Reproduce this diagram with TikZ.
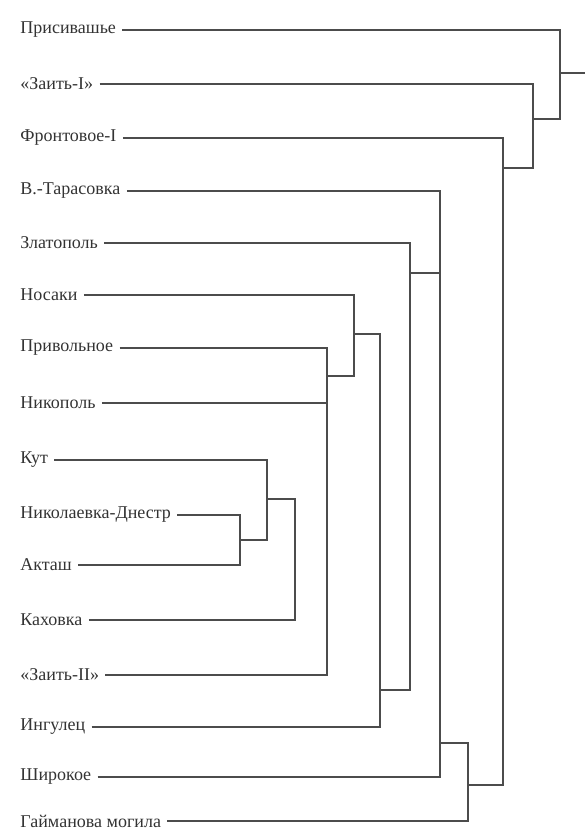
\documentclass[tikz,border=0pt]{standalone}
\usepackage{fontspec}
\setmainfont{Liberation Serif}
\usepackage{tikz}
\usepackage{xcolor}

\begin{document}
\begin{tikzpicture}[x=0.5pt,y=-0.5pt,
  leaf/.style={anchor=west,inner sep=3pt,text=black!80,font=\fontsize{9}{10}\selectfont},
  link/.style={draw=black!70,line width=0.7pt}]
  \useasboundingbox (0,0) rectangle (585,830);
  % sites
  \node[leaf] (l1) at (14,30) {Присивашье};
  \node[leaf] (l2) at (14,84) {«Заить-I»};
  \node[leaf] (l3) at (14,138) {Фронтовое-I};
  \node[leaf] (l4) at (14,191) {В.-Тарасовка};
  \node[leaf] (l5) at (14,243) {Златополь};
  \node[leaf] (l6) at (14,295) {Носаки};
  \node[leaf] (l7) at (14,348) {Привольное};
  \node[leaf] (l8) at (14,403) {Никополь};
  \node[leaf] (l9) at (14,460) {Кут};
  \node[leaf] (l10) at (14,515) {Николаевка-Днестр};
  \node[leaf] (l11) at (14,565) {Акташ};
  \node[leaf] (l12) at (14,620) {Каховка};
  \node[leaf] (l13) at (14,675) {«Заить-II»};
  \node[leaf] (l14) at (14,727) {Ингулец};
  \node[leaf] (l15) at (14,777) {Широкое};
  \node[leaf] (l16) at (14,821) {Гайманова могила};
  % joins
  \coordinate (a) at (240,540);
  \coordinate (b) at (267,499);
  \coordinate (c) at (295,560);
  \coordinate (d) at (327,376);
  \coordinate (e) at (354,334);
  \coordinate (f) at (380,690);
  \coordinate (g) at (410,273);
  \coordinate (h) at (440,743);
  \coordinate (i) at (468,785);
  \coordinate (j) at (503,168);
  \coordinate (k) at (533,119);
  \coordinate (m) at (560,73);
  \coordinate (root) at (585,73);
  % tree
  \draw[link] (l10.east) -| (a);
  \draw[link] (l11.east) -| (a);
  \draw[link] (l9.east) -| (b);
  \draw[link] (a) -| (b);
  \draw[link] (b) -| (c);
  \draw[link] (l12.east) -| (c);
  \draw[link] (l7.east) -| (d);
  \draw[link] (l8.east) -| (d);
  \draw[link] (l13.east) -| (d);
  \draw[link] (l6.east) -| (e);
  \draw[link] (d) -| (e);
  \draw[link] (e) -| (f);
  \draw[link] (l14.east) -| (f);
  \draw[link] (l5.east) -| (g);
  \draw[link] (f) -| (g);
  \draw[link] (l4.east) -| (h);
  \draw[link] (g) -| (h);
  \draw[link] (l15.east) -| (h);
  \draw[link] (h) -| (i);
  \draw[link] (l16.east) -| (i);
  \draw[link] (l3.east) -| (j);
  \draw[link] (i) -| (j);
  \draw[link] (l2.east) -| (k);
  \draw[link] (j) -| (k);
  \draw[link] (l1.east) -| (m);
  \draw[link] (k) -| (m);
  \draw[link] (m) -- (root);
\end{tikzpicture}
\end{document}
